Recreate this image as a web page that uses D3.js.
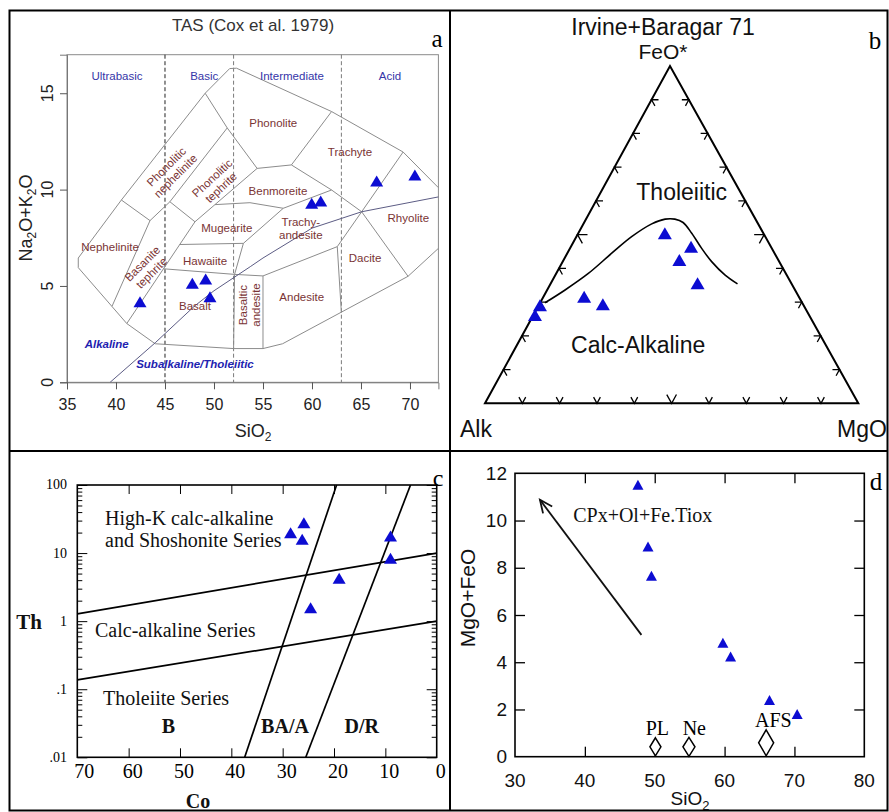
<!DOCTYPE html>
<html><head><meta charset="utf-8">
<script src="https://cdn.jsdelivr.net/npm/d3@7"></script>
<style>
body{margin:0;background:#fff;}
svg{display:block;}
</style></head><body>
<svg id="fig" width="889" height="812" font-family="'Liberation Sans', Arial, sans-serif"></svg>
<script>
// ================= DATA =================
// Panel a : TAS (Cox et al. 1979)
const tasXTicks = [35,40,45,50,55,60,65,70];
const tasYTicks = [0,5,10,15];
const tasDividers = [45,52,63];
const tasGroups = ["Ultrabasic","Basic","Intermediate","Acid"];
const tasGroupX = [40.1,49.0,57.96,67.96];
const tasSiO2 = [42.45,47.79,49.15,49.59,59.97,60.89,66.6,70.5];
const tasAlk  = [4.18,5.14,5.36,4.44,9.29,9.41,10.45,10.76];
const tasFieldLines = [
  [[49.1,15.0],[51.6,16.28],[52.3,16.3],[62.0,14.05],[69.3,11.95],[72.9,10.1]],
  [[49.1,15.0],[40.55,9.46],[36.15,6.45],[36.15,5.95],[41.1,3.05],[44.0,2.0],[52.0,1.75],[55.0,1.75],[57.0,2.0],[69.8,5.5],[72.9,6.95]],
  [[49.1,15.0],[51.35,13.2],[54.4,11.1],[57.9,11.28],[62.0,14.05]],
  [[51.35,13.2],[45.5,9.37],[43.47,8.39],[39.6,3.95]],
  [[40.55,9.46],[43.47,8.39]],
  [[45.5,9.37],[48.06,8.33]],
  [[41.1,3.05],[48.06,8.33],[54.4,11.1]],
  [[50.1,9.22],[53.67,9.32],[57.07,9.03]],
  [[44.85,5.89],[52.1,5.6],[55.0,5.52],[62.58,7.04]],
  [[46.5,7.15],[53.0,7.21],[52.1,5.6],[52.0,1.75]],
  [[55.0,5.52],[55.0,1.75]],
  [[53.0,7.21],[57.07,9.03],[62.0,9.98]],
  [[57.9,11.28],[62.0,9.98],[65.07,8.85]],
  [[69.3,11.95],[65.07,8.85],[62.58,7.04],[63.0,3.62]],
  [[65.07,8.85],[69.8,5.5]]
];
const tasIrvine = [[39.4,0],[44.0,2.05],[48,3.95],[50,4.75],[53.7,6],[55,6.45],[60,8],[65.07,8.85],[72.9,9.62]];
const tasFieldNames = ["Phonolite","Trachyte","Benmoreite","Trachy-\nandesite","Rhyolite","Dacite","Andesite","Basaltic\nandesite","Mugearite","Hawaiite","Basalt","Nephelinite","Basanite\ntephrite","Phonolitic\nnephelinite","Phonolitic\ntephrite"];
const tasFieldX = [56.05,63.88,56.53,58.86,69.83,65.41,58.95,53.64,51.3,49.08,48.06,39.39,43.16,45.61,50.26];
const tasFieldY = [13.44,11.93,9.95,7.96,8.51,6.43,4.44,4.01,7.99,6.31,3.96,7.04,5.92,10.95,10.35];
const tasFieldRot = [0,0,0,0,0,0,0,-90,0,0,0,0,-45,-45,-43];
const tasSeriesNames = ["Alkaline","Subalkaline/Tholeiitic"];
const tasSeriesX = [39.05,48.06];
const tasSeriesY = [1.97,0.95];

// Panel b : AFM (Irvine & Baragar 1971), [Alk, FeO*, MgO] in %
const ibBoundary = [[68.9,29.8,1.3],[61.6,33.6,4.8],[52.9,38.5,8.6],[43.6,44.5,11.9],[35.8,49.4,14.8],[28.5,53.2,18.3],[24.2,54.6,21.2],[21.6,54.6,23.8],[19.9,53.6,26.5],[19.2,50.4,30.4],[18.8,46.0,35.2],[18.1,42.0,39.9],[16.5,38.0,45.5],[14.5,35.4,50.1]];
const afmAlk = [26.4,21.4,26.5,25.1,57.5,53.6,70.6,73.4];
const afmFeO = [50.4,46.4,42.5,35.6,31.6,29.4,29.1,26.2];
const afmMgO = [23.2,32.2,31.0,39.3,10.9,17.0,0.3,0.4];
const afmTicks = [0.1,0.2,0.3,0.4,0.5,0.6,0.7,0.8,0.9];

// Panel c : Th vs Co
const coTicks = [70,60,50,40,30,20,10,0];
const thMajor = [0.01,0.1,1,10,100];
const thMajorLabels = [".01",".1","1","10","100"];
const coVals = [28.46,25.87,26.2,9.0,9.0,19.0,24.56];
const thVals = [19.9,28.0,16.0,17.8,8.4,4.26,1.58];
const seriesUpper = [[70,1.28],[0,10]];
const seriesLower = [[70,0.137],[0,1]];
const rockLine1 = [[37.4,0.01],[19.5,100]];
const rockLine2 = [[25.5,0.01],[5.1,100]];

// Panel d : MgO+FeO vs SiO2
const dXTicks = [30,40,50,60,70,80];
const dYTicks = [0,2,4,6,8,10,12];
const dSiO2 = [47.6,49.04,49.53,59.76,60.86,66.43,70.39];
const dMgFe = [11.51,8.9,7.66,4.83,4.24,2.4,1.81];
const minNames = ["PL","Ne","AFS"];
const minSiO2 = [50.1,54.9,65.95];
const minMgFe = [0.42,0.42,0.59];
const dArrow = [[48.1,5.16],[33.57,10.88]];

// ================= DRAW =================
const svg = d3.select("#fig");
const BLUE = "#0c0cd2";
const SERIF = "'Liberation Serif', 'Times New Roman', serif";
const triPath = (w,h)=>`M0,${-h/2}L${w/2},${h/2}L${-w/2},${h/2}Z`;
function styleAxis(g){ g.attr("font-family",null).attr("font-size",null); }

// frame
svg.append("rect").attr("x",9.5).attr("y",10.5).attr("width",878).attr("height",800)
  .attr("fill","none").attr("stroke","#000").attr("stroke-width",2);
svg.append("line").attr("x1",450).attr("x2",450).attr("y1",10).attr("y2",811).attr("stroke","#000").attr("stroke-width",2);
svg.append("line").attr("x1",9).attr("x2",888).attr("y1",451).attr("y2",451).attr("stroke","#000").attr("stroke-width",2);

// ---------- Panel a ----------
{
  const g = svg.append("g");
  const x = d3.scaleLinear().domain([35,72.9]).range([67,438.4]);
  const y = d3.scaleLinear().domain([0,17]).range([382.3,54.7]);
  const line = d3.line().x(d=>x(d[0])).y(d=>y(d[1]));
  g.append("text").attr("x",253).attr("y",31).attr("text-anchor","middle").attr("font-size",17).attr("fill","#333").text("TAS (Cox et al. 1979)");
  g.append("rect").attr("x",x(35)).attr("y",y(17)).attr("width",x(72.9)-x(35)).attr("height",y(0)-y(17))
    .attr("fill","none").attr("stroke","#8a8a8a").attr("stroke-width",1);
  tasDividers.forEach((v,i)=>g.append("line").attr("x1",x(v)).attr("x2",x(v)).attr("y1",y(17)).attr("y2",y(0))
    .attr("stroke",i===0?"#222":"#7a7a7a").attr("stroke-width",1).attr("stroke-dasharray","4,2.5"));
  tasFieldLines.forEach(l=>g.append("path").attr("d",line(l)).attr("fill","none").attr("stroke","#8c8c8c").attr("stroke-width",1));
  g.append("path").attr("d",line(tasIrvine)).attr("fill","none").attr("stroke","#5c5c84").attr("stroke-width",1);
  // axes
  const ya = g.append("g").attr("transform",`translate(${x(35)},0)`).call(d3.axisLeft(y).tickValues(tasYTicks).tickSize(7).tickFormat(""));
  styleAxis(ya); ya.select(".domain").attr("stroke","#777"); ya.selectAll("line").attr("stroke","#555");
  g.selectAll(".ytl").data(tasYTicks).join("text").attr("class","ytl")
    .attr("transform",d=>`translate(53,${y(d)}) rotate(-90)`).attr("text-anchor","middle").attr("font-size",16).attr("fill","#222").text(d=>d);
  const xa = g.append("g").attr("transform",`translate(0,${y(0)})`).call(d3.axisBottom(x).tickValues(tasXTicks).tickSize(7));
  styleAxis(xa); xa.select(".domain").attr("stroke","#777"); xa.selectAll("line").attr("stroke","#555");
  xa.selectAll("text").attr("y",27.5).attr("dy",0).attr("font-size",16).attr("fill","#222");
  const sx = g.append("text").attr("x",253).attr("y",437).attr("text-anchor","middle").attr("font-size",18).attr("fill","#222");
  sx.append("tspan").text("SiO"); sx.append("tspan").attr("font-size",12).attr("dy",4).text("2");
  const yl = g.append("text").attr("transform","translate(32,218) rotate(-90)").attr("text-anchor","middle").attr("font-size",18).attr("fill","#222");
  yl.append("tspan").text("Na"); yl.append("tspan").attr("font-size",12).attr("dy",4).text("2");
  yl.append("tspan").attr("dy",-4).text("O+K"); yl.append("tspan").attr("font-size",12).attr("dy",4).text("2");
  yl.append("tspan").attr("dy",-4).text("O");
  // group labels
  tasGroups.forEach((t,i)=>g.append("text").attr("x",x(tasGroupX[i])).attr("y",y(15.69)).attr("text-anchor","middle")
    .attr("font-size",11.5).attr("fill","#3535a8").text(t));
  // field labels
  tasFieldNames.forEach((t,i)=>{
    const lines = t.split("\n");
    const tx = g.append("text").attr("transform",`translate(${x(tasFieldX[i])},${y(tasFieldY[i])}) rotate(${tasFieldRot[i]})`)
      .attr("text-anchor","middle").attr("font-size",11.5).attr("fill","#7a3434");
    lines.forEach((s,k)=>tx.append("tspan").attr("x",0).attr("y",(k-(lines.length-1)/2)*13).attr("dy","0.35em").text(s));
  });
  tasSeriesNames.forEach((t,i)=>g.append("text").attr("x",x(tasSeriesX[i])).attr("y",y(tasSeriesY[i])).attr("dy","0.35em")
    .attr("text-anchor","middle").attr("font-size",11.5).attr("font-weight","bold").attr("font-style","italic").attr("fill","#2222b0").text(t));
  g.selectAll(".pt").data(tasSiO2).join("path").attr("class","pt").attr("d",triPath(13,11))
    .attr("transform",(d,i)=>`translate(${x(d)},${y(tasAlk[i])})`).attr("fill",BLUE);
  g.append("text").attr("x",437).attr("y",47).attr("text-anchor","middle").attr("font-family",SERIF).attr("font-size",25).text("a");
}

// ---------- Panel b ----------
{
  const g = svg.append("g");
  const bx = d3.scaleLinear().domain([0,1]).range([485,858.3]);
  const by = d3.scaleLinear().domain([0,1]).range([403.3,66]);
  const apexShift = (670-485)/(858.3-485);
  const tern = (a,f,m)=>{const s=a+f+m; return [bx(m/s + apexShift*f/s), by(f/s)];};
  const A = tern(1,0,0), F = tern(0,1,0), M = tern(0,0,1);
  g.append("path").attr("d",`M${A}L${F}L${M}Z`).attr("fill","none").attr("stroke","#000").attr("stroke-width",2).attr("stroke-linejoin","miter");
  const unit = (p,q)=>{const dx=q[0]-p[0],dy=q[1]-p[1],l=Math.hypot(dx,dy);return [dx/l,dy/l];};
  const uAF=unit(A,F), uMF=unit(M,F), uFM=unit(F,M), uFA=unit(F,A), uAM=unit(A,M), uMA=unit(M,A);
  const tk = [];
  afmTicks.forEach(t=>{
    const L = Math.abs(t-0.5)<1e-9 ? 10 : 7;
    tk.push({p:tern(1-t,t,0),d1:uAM,d2:uFM,L});
    tk.push({p:tern(0,1-t,t),d1:uMA,d2:uFA,L});
    tk.push({p:tern(1-t,0,t),d1:uAF,d2:uMF,L});
  });
  g.selectAll(".tk").data(tk).join("path").attr("class","tk")
    .attr("d",d=>`M${d.p[0]+d.d1[0]*d.L},${d.p[1]+d.d1[1]*d.L}L${d.p[0]},${d.p[1]}L${d.p[0]+d.d2[0]*d.L},${d.p[1]+d.d2[1]*d.L}`)
    .attr("fill","none").attr("stroke","#000").attr("stroke-width",1.3);
  const cl = d3.line().x(d=>tern(...d)[0]).y(d=>tern(...d)[1]).curve(d3.curveCatmullRom);
  g.append("path").attr("d",cl(ibBoundary)).attr("fill","none").attr("stroke","#000").attr("stroke-width",1.6);
  g.selectAll(".pt").data(afmAlk).join("path").attr("class","pt").attr("d",triPath(14,12))
    .attr("transform",(d,i)=>`translate(${tern(d,afmFeO[i],afmMgO[i])})`).attr("fill",BLUE);
  g.append("text").attr("x",663).attr("y",35).attr("text-anchor","middle").attr("font-size",23).attr("fill","#111").text("Irvine+Baragar 71");
  g.append("text").attr("x",663).attr("y",59).attr("text-anchor","middle").attr("font-size",21).attr("fill","#111").text("FeO*");
  g.append("text").attr("x",681.7).attr("y",200).attr("text-anchor","middle").attr("font-size",23).attr("fill","#111").text("Tholeiitic");
  g.append("text").attr("x",638.2).attr("y",353).attr("text-anchor","middle").attr("font-size",23).attr("fill","#111").text("Calc-Alkaline");
  g.append("text").attr("x",460).attr("y",437).attr("font-size",23).attr("fill","#111").text("Alk");
  g.append("text").attr("x",837).attr("y",437).attr("font-size",23).attr("fill","#111").text("MgO");
  g.append("text").attr("x",875).attr("y",49).attr("text-anchor","middle").attr("font-family",SERIF).attr("font-size",25).text("b");
}

// ---------- Panel c ----------
{
  const g = svg.append("g");
  const x = d3.scaleLinear().domain([70,0]).range([77.3,436.7]);
  const y = d3.scaleLog().domain([0.01,100]).range([757.3,485]);
  const line = d3.line().x(d=>x(d[0])).y(d=>y(d[1]));
  g.append("defs").append("clipPath").attr("id","clipc").append("rect")
    .attr("x",x(70)).attr("y",y(100)).attr("width",x(0)-x(70)).attr("height",y(0.01)-y(100));
  const minors = [];
  [0.01,0.1,1,10].forEach(d=>{for(let k=2;k<=9;k++) minors.push(d*k);});
  const addY = (axisFn,tx,vals,size)=>{
    const a = g.append("g").attr("transform",`translate(${tx},0)`).call(axisFn(y).tickValues(vals).tickSize(size).tickFormat(""));
    styleAxis(a); a.select(".domain").remove(); a.selectAll("line").attr("stroke","#000").attr("stroke-width",1);
  };
  addY(d3.axisLeft,x(70),thMajor,-10); addY(d3.axisLeft,x(70),minors,-5);
  addY(d3.axisRight,x(0),thMajor,-10); addY(d3.axisRight,x(0),minors,-5);
  const inner = coTicks.filter(v=>v>0&&v<70);
  const xb = g.append("g").attr("transform",`translate(0,${y(0.01)})`).call(d3.axisBottom(x).tickValues(inner).tickSize(-9).tickFormat(""));
  styleAxis(xb); xb.select(".domain").remove(); xb.selectAll("line").attr("stroke","#000");
  const xt = g.append("g").attr("transform",`translate(0,${y(100)})`).call(d3.axisTop(x).tickValues(inner).tickSize(-9).tickFormat(""));
  styleAxis(xt); xt.select(".domain").remove(); xt.selectAll("line").attr("stroke","#000");
  g.append("rect").attr("x",x(70)).attr("y",y(100)).attr("width",x(0)-x(70)).attr("height",y(0.01)-y(100))
    .attr("fill","none").attr("stroke","#000").attr("stroke-width",1.6);
  thMajor.forEach((v,i)=>g.append("text").attr("x",67).attr("y",y(v)).attr("dy","0.32em").attr("text-anchor","end")
    .attr("font-family",SERIF).attr("font-size",14).text(thMajorLabels[i]));
  coTicks.forEach(v=>g.append("text").attr("x",x(v)+(v===70?7:4)).attr("y",778).attr("text-anchor","middle")
    .attr("font-family",SERIF).attr("font-size",20).text(v));
  [seriesUpper,seriesLower,rockLine1,rockLine2].forEach(l=>g.append("path").attr("d",line(l)).attr("clip-path","url(#clipc)")
    .attr("fill","none").attr("stroke","#000").attr("stroke-width",1.7));
  const T = (t,xx,yy,opt={})=>g.append("text").attr("x",xx).attr("y",yy).attr("font-family",SERIF).attr("font-size",opt.fs||20)
    .attr("font-weight",opt.b?"bold":null).attr("text-anchor",opt.a||"start").attr("fill","#111").text(t);
  T("High-K calc-alkaline",105,525); T("and Shoshonite Series",105,547);
  T("Calc-alkaline Series",95,637); T("Tholeiite Series",103,705);
  T("B",168.3,733,{b:1,a:"middle"}); T("BA/A",285,733,{b:1,a:"middle"}); T("D/R",361.7,733,{b:1,a:"middle"});
  T("Th",29,629,{b:1,a:"middle",fs:21}); T("Co",198,808,{b:1,a:"middle",fs:20});
  g.selectAll(".pt").data(coVals).join("path").attr("class","pt").attr("d",triPath(13,11))
    .attr("transform",(d,i)=>`translate(${x(d)},${y(thVals[i])})`).attr("fill",BLUE);
  g.append("text").attr("x",438).attr("y",486).attr("text-anchor","middle").attr("font-family",SERIF).attr("font-size",24).text("c");
}

// ---------- Panel d ----------
{
  const g = svg.append("g");
  const x = d3.scaleLinear().domain([30,80]).range([515,864.3]);
  const y = d3.scaleLinear().domain([0,12]).range([756.7,473.3]);
  const ix = dXTicks.filter(v=>v>30&&v<80), iy = dYTicks.filter(v=>v>0&&v<12);
  const mk = (fn,sc,tr,vals)=>{const a=g.append("g").attr("transform",tr).call(fn(sc).tickValues(vals).tickSize(-10).tickFormat(""));
    styleAxis(a); a.select(".domain").remove(); a.selectAll("line").attr("stroke","#000").attr("stroke-width",1.3);};
  mk(d3.axisLeft,y,`translate(${x(30)},0)`,iy); mk(d3.axisRight,y,`translate(${x(80)},0)`,iy);
  mk(d3.axisBottom,x,`translate(0,${y(0)})`,ix); mk(d3.axisTop,x,`translate(0,${y(12)})`,ix);
  g.append("rect").attr("x",x(30)).attr("y",y(12)).attr("width",x(80)-x(30)).attr("height",y(0)-y(12))
    .attr("fill","none").attr("stroke","#000").attr("stroke-width",1.6);
  dYTicks.forEach(v=>g.append("text").attr("x",507).attr("y",y(v)).attr("dy","0.35em").attr("text-anchor","end").attr("font-size",19).attr("fill","#111").text(v));
  dXTicks.forEach(v=>g.append("text").attr("x",x(v)).attr("y",787).attr("text-anchor","middle").attr("font-size",19).attr("fill","#111").text(v));
  const sx = g.append("text").attr("x",690).attr("y",805).attr("text-anchor","middle").attr("font-size",19).attr("fill","#111");
  sx.append("tspan").text("SiO"); sx.append("tspan").attr("font-size",13).attr("dy",5).text("2");
  g.append("text").attr("transform","translate(475,598) rotate(-90)").attr("text-anchor","middle").attr("font-size",21).attr("fill","#111").text("MgO+FeO");
  // arrow
  const p0=[x(dArrow[0][0]),y(dArrow[0][1])], p1=[x(dArrow[1][0]),y(dArrow[1][1])];
  g.append("line").attr("x1",p0[0]).attr("y1",p0[1]).attr("x2",p1[0]).attr("y2",p1[1]).attr("stroke","#111").attr("stroke-width",1.8);
  const ang = Math.atan2(p0[1]-p1[1],p0[0]-p1[0]), L=14, sp=0.42;
  g.append("path").attr("d",`M${p1[0]+L*Math.cos(ang-sp)},${p1[1]+L*Math.sin(ang-sp)}L${p1[0]},${p1[1]}L${p1[0]+L*Math.cos(ang+sp)},${p1[1]+L*Math.sin(ang+sp)}`)
    .attr("fill","none").attr("stroke","#111").attr("stroke-width",1.8);
  g.append("text").attr("x",x(38.33)).attr("y",y(9.92)).attr("font-family",SERIF).attr("font-size",20).attr("fill","#111").text("CPx+Ol+Fe.Tiox");
  // minerals
  const dsz = [[11,18],[12,19],[15,26]];
  minNames.forEach((n,i)=>{
    const cx=x(minSiO2[i]), cy=y(minMgFe[i]), w=dsz[i][0]/2, h=dsz[i][1]/2;
    g.append("path").attr("d",`M${cx},${cy-h}L${cx+w},${cy}L${cx},${cy+h}L${cx-w},${cy}Z`).attr("fill","#fff").attr("stroke","#000").attr("stroke-width",1.5);
  });
  const labY=[735,735,727], labX=[657.3,694.3,773.3];
  minNames.forEach((n,i)=>g.append("text").attr("x",labX[i]).attr("y",labY[i]).attr("text-anchor","middle").attr("font-family",SERIF).attr("font-size",20).text(n));
  g.selectAll(".pt").data(dSiO2).join("path").attr("class","pt").attr("d",triPath(11,10))
    .attr("transform",(d,i)=>`translate(${x(d)},${y(dMgFe[i])})`).attr("fill",BLUE);
  g.append("text").attr("x",876).attr("y",490).attr("text-anchor","middle").attr("font-family",SERIF).attr("font-size",25).text("d");
}
</script></body></html>
